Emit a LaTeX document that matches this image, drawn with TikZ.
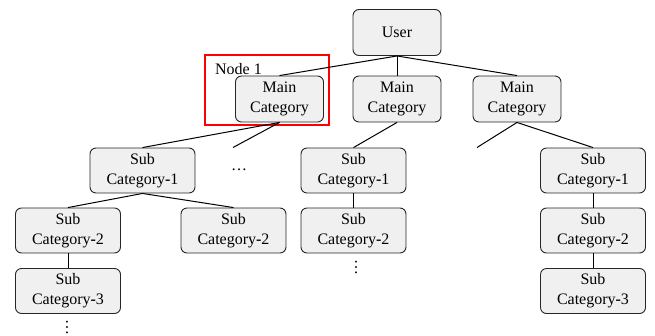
\documentclass[tikz,border=0pt]{standalone}
\usepackage{fontspec}
\setmainfont{Liberation Serif}
\begin{document}
\begin{tikzpicture}[x=1pt,y=-1pt,
  font=\fontsize{16}{20}\selectfont,
  box/.style={draw=black!85, line width=0.9pt, fill=black!6, rounded corners=6pt,
    align=center, inner sep=0pt},
  topbox/.style={box, minimum width=88pt, minimum height=46pt},
  subbox/.style={box, minimum width=105pt, minimum height=45pt},
  link/.style={draw=black, line width=1pt},
  hl/.style={draw=red, line width=2pt},
  moredown/.style={rotate=-90, inner sep=0pt}]
\useasboundingbox (0,0) rectangle (655,335);

% root and first level
\node[topbox] (user) at (397,32.5) {User};
\node[topbox] (m1) at (279.5,99) {Main\\Category};
\node[topbox] (m2) at (397,99) {Main\\Category};
\node[topbox] (m3) at (517,99) {Main\\Category};

% highlight around the first main category
\draw[hl] (205,55) rectangle (329,125);
\node (lbl) at (238.5,69) {Node 1};

% left branch
\node[subbox] (l1) at (142.5,170.5) {Sub\\Category\textbf{-}1};
\node[subbox] (l2a) at (68,230.5) {Sub\\Category\textbf{-}2};
\node[subbox] (l2b) at (233.5,230.5) {Sub\\Category\textbf{-}2};
\node[subbox] (l3) at (68,291) {Sub\\Category\textbf{-}3};
\node (ldots) at (239,170) {\dots};
\node[moredown] (lvd) at (67,327) {\dots};

% middle branch
\node[subbox] (c1) at (353.5,170.5) {Sub\\Category\textbf{-}1};
\node[subbox] (c2) at (353.5,230.5) {Sub\\Category\textbf{-}2};
\node[moredown] (cvd) at (356,267) {\dots};

% right branch
\node[subbox] (r1) at (593,170.5) {Sub\\Category\textbf{-}1};
\node[subbox] (r2) at (593,230.5) {Sub\\Category\textbf{-}2};
\node[subbox] (r3) at (593,291) {Sub\\Category\textbf{-}3};

% open ends of the elided branches
\coordinate (e1) at (233,147.5);
\coordinate (e3) at (477,147.5);

% connectors
\draw[link] (user.south) -- (m1.north);
\draw[link] (user.south) -- (m2.north);
\draw[link] (user.south) -- (m3.north);
\draw[link] (m1.south) -- (l1.north);
\draw[link] (m1.south) -- (e1);
\draw[link] (m2.south) -- (c1.north);
\draw[link] (m3.south) -- (e3);
\draw[link] (m3.south) -- (r1.north);
\draw[link] (l1.south) -- (l2a.north);
\draw[link] (l1.south) -- (l2b.north);
\draw[link] (l2a.south) -- (l3.north);
\draw[link] (c1.south) -- (c2.north);
\draw[link] (r1.south) -- (r2.north);
\draw[link] (r2.south) -- (r3.north);
\end{tikzpicture}
\end{document}
